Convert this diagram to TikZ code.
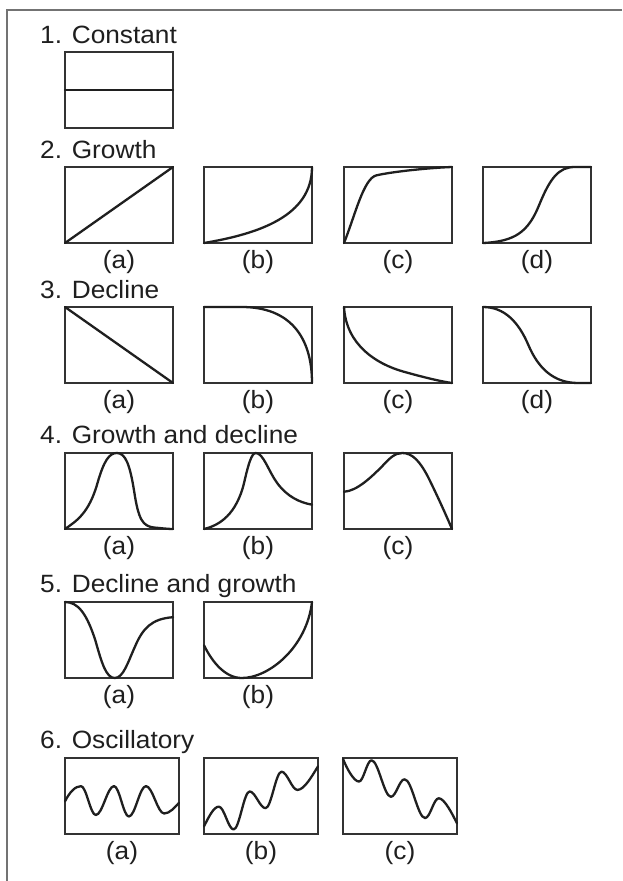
\documentclass[tikz,border=0pt]{standalone}
\usepackage{fontspec}
\setmainfont{Liberation Sans}[FakeStretch=1.05]
\begin{document}
\begin{tikzpicture}[x=1pt,y=-1pt,
  panel/.style={draw=black!80, line width=1.8pt, minimum width=108pt, minimum height=76pt, inner sep=0pt, outer sep=0pt, anchor=north west},
  widepanel/.style={panel, minimum width=114pt},
  curve/.style={line width=2.3pt, draw=black!88, line join=round, line cap=round},
  ttl/.style={font=\fontsize{25}{29}\selectfont, anchor=base west, inner sep=0pt, text=black!88},
  lab/.style={font=\fontsize{25}{29}\selectfont, anchor=base, inner sep=0pt, text=black!88},
  frame/.style={line width=2.5pt, draw=black!55}]
\useasboundingbox (0,0) rectangle (622,881);
% frame
\coordinate (fTL) at (7,10);
\coordinate (fTR) at (622,10);
\coordinate (fBL) at (7,881);
\draw[frame] (fTR) -- (fTL) -- (fBL);

% ---------- 1. Constant
\node[ttl] (t1) at (40,43) {1. Constant};
\node[panel] (c1) at (65,52) {};
\begin{scope}[shift={(c1.south west)},x=108pt,y=76pt]
  \draw[curve] (0,0.5) -- (1,0.5);
\end{scope}

% ---------- 2. Growth
\node[ttl] (t2) at (40,158) {2. Growth};
\node[panel] (g2a) at (65,167) {};
\node[panel] (g2b) at (204,167) {};
\node[panel] (g2c) at (344,167) {};
\node[panel] (g2d) at (483,167) {};
\begin{scope}[shift={(g2a.south west)},x=108pt,y=76pt]
  \draw[curve] (0,0) -- (1,1);
\end{scope}
\begin{scope}[shift={(g2b.south west)},x=108pt,y=76pt]
  \draw[curve] (0,0) .. controls (0.5,0.12) and (1,0.35) .. (1,1);
\end{scope}
\begin{scope}[shift={(g2c.south west)},x=108pt,y=76pt]
  \draw[curve] (0,0) .. controls (0.1,0.35) and (0.18,0.85) .. (0.3,0.89) .. controls (0.45,0.94) and (0.8,0.99) .. (1,1);
\end{scope}
\begin{scope}[shift={(g2d.south west)},x=108pt,y=76pt]
  \draw[curve] (0,0) .. controls (0.3,0.02) and (0.42,0.15) .. (0.52,0.5) .. controls (0.62,0.85) and (0.7,1) .. (0.85,1) -- (1,1);
\end{scope}
\node[lab] (l2a) at ([yshift=-25pt]g2a.south) {(a)};
\node[lab] (l2b) at ([yshift=-25pt]g2b.south) {(b)};
\node[lab] (l2c) at ([yshift=-25pt]g2c.south) {(c)};
\node[lab] (l2d) at ([yshift=-25pt]g2d.south) {(d)};

% ---------- 3. Decline
\node[ttl] (t3) at (40,298) {3. Decline};
\node[panel] (d3a) at (65,307) {};
\node[panel] (d3b) at (204,307) {};
\node[panel] (d3c) at (344,307) {};
\node[panel] (d3d) at (483,307) {};
\begin{scope}[shift={(d3a.south west)},x=108pt,y=76pt]
  \draw[curve] (0,1) -- (1,0);
\end{scope}
\begin{scope}[shift={(d3b.south west)},x=108pt,y=76pt]
  \draw[curve] (0,1) -- (0.35,1) .. controls (0.8,1) and (1,0.6) .. (1,0);
\end{scope}
\begin{scope}[shift={(d3c.south west)},x=108pt,y=76pt]
  \draw[curve] (0,1) .. controls (0.02,0.5) and (0.3,0.25) .. (0.55,0.15) .. controls (0.75,0.07) and (0.9,0.02) .. (1,0);
\end{scope}
\begin{scope}[shift={(d3d.south west)},x=108pt,y=76pt]
  \draw[curve] (0,1) .. controls (0.2,1) and (0.33,0.8) .. (0.42,0.5) .. controls (0.51,0.2) and (0.65,0) .. (0.88,0) -- (1,0);
\end{scope}
\node[lab] (l3a) at ([yshift=-25pt]d3a.south) {(a)};
\node[lab] (l3b) at ([yshift=-25pt]d3b.south) {(b)};
\node[lab] (l3c) at ([yshift=-25pt]d3c.south) {(c)};
\node[lab] (l3d) at ([yshift=-25pt]d3d.south) {(d)};

% ---------- 4. Growth and decline
\node[ttl] (t4) at (40,443) {4. Growth and decline};
\node[panel] (gd4a) at (65,453) {};
\node[panel] (gd4b) at (204,453) {};
\node[panel] (gd4c) at (344,453) {};
\begin{scope}[shift={(gd4a.south west)},x=108pt,y=76pt]
  \draw[curve] (0,0) .. controls (0.1,0.1) and (0.22,0.2) .. (0.3,0.6) .. controls (0.36,0.9) and (0.41,1) .. (0.48,1) .. controls (0.56,1) and (0.6,0.85) .. (0.64,0.5) .. controls (0.68,0.12) and (0.72,0.04) .. (0.82,0.02) .. controls (0.9,0.01) and (0.95,0) .. (1,0);
\end{scope}
\begin{scope}[shift={(gd4b.south west)},x=108pt,y=76pt]
  \draw[curve] (0,0) .. controls (0.15,0.05) and (0.3,0.2) .. (0.37,0.6) .. controls (0.41,0.85) and (0.44,1) .. (0.48,1) .. controls (0.55,1) and (0.6,0.75) .. (0.68,0.6) .. controls (0.77,0.43) and (0.88,0.35) .. (1,0.32);
\end{scope}
\begin{scope}[shift={(gd4c.south west)},x=108pt,y=76pt]
  \draw[curve] (0,0.49) .. controls (0.12,0.5) and (0.25,0.68) .. (0.35,0.82) .. controls (0.42,0.93) and (0.47,1) .. (0.54,1) .. controls (0.63,1) and (0.7,0.9) .. (0.78,0.68) .. controls (0.86,0.45) and (0.94,0.2) .. (1,0);
\end{scope}
\node[lab] (l4a) at ([yshift=-25pt]gd4a.south) {(a)};
\node[lab] (l4b) at ([yshift=-25pt]gd4b.south) {(b)};
\node[lab] (l4c) at ([yshift=-25pt]gd4c.south) {(c)};

% ---------- 5. Decline and growth
\node[ttl] (t5) at (40,592) {5. Decline and growth};
\node[panel] (dg5a) at (65,602) {};
\node[panel] (dg5b) at (204,602) {};
\begin{scope}[shift={(dg5a.south west)},x=108pt,y=76pt]
  \draw[curve] (0,1) .. controls (0.12,1) and (0.2,0.85) .. (0.28,0.5) .. controls (0.34,0.2) and (0.38,0) .. (0.46,0) .. controls (0.54,0) and (0.58,0.2) .. (0.65,0.42) .. controls (0.72,0.65) and (0.8,0.78) .. (1,0.8);
\end{scope}
\begin{scope}[shift={(dg5b.south west)},x=108pt,y=76pt]
  \draw[curve] (0,0.43) .. controls (0.08,0.2) and (0.2,0) .. (0.35,0) .. controls (0.6,0) and (0.95,0.4) .. (1,1);
\end{scope}
\node[lab] (l5a) at ([yshift=-25pt]dg5a.south) {(a)};
\node[lab] (l5b) at ([yshift=-25pt]dg5b.south) {(b)};

% ---------- 6. Oscillatory
\node[ttl] (t6) at (40,748) {6. Oscillatory};
\node[widepanel] (o6a) at (65,758) {};
\node[widepanel] (o6b) at (204,758) {};
\node[widepanel] (o6c) at (343,758) {};
\begin{scope}[shift={(o6a.south west)},x=114pt,y=76pt]
  \draw[curve] (0,0.43) .. controls +(0.04,0.12) and +(-0.05,0) .. (0.14,0.63)
    .. controls +(0.047,0) and +(-0.047,0) .. (0.27,0.25)
    .. controls +(0.058,0) and +(-0.058,0) .. (0.43,0.63)
    .. controls +(0.047,0) and +(-0.047,0) .. (0.56,0.23)
    .. controls +(0.055,0) and +(-0.055,0) .. (0.71,0.63)
    .. controls +(0.058,0) and +(-0.058,0) .. (0.87,0.27)
    .. controls +(0.05,0) and +(-0.04,-0.06) .. (1,0.41);
\end{scope}
\begin{scope}[shift={(o6b.south west)},x=114pt,y=76pt]
  \draw[curve] (0,0.1) .. controls +(0.04,0.12) and +(-0.045,0) .. (0.13,0.36)
    .. controls +(0.047,0) and +(-0.047,0) .. (0.26,0.06)
    .. controls +(0.05,0) and +(-0.05,0) .. (0.4,0.56)
    .. controls +(0.05,0) and +(-0.05,0) .. (0.54,0.34)
    .. controls +(0.05,0) and +(-0.05,0) .. (0.68,0.82)
    .. controls +(0.05,0) and +(-0.05,0) .. (0.82,0.58)
    .. controls +(0.06,0) and +(-0.05,-0.12) .. (1,0.89);
\end{scope}
\begin{scope}[shift={(o6c.south west)},x=114pt,y=76pt]
  \draw[curve] (0,0.99) .. controls +(0.03,-0.12) and +(-0.045,0) .. (0.14,0.69)
    .. controls +(0.04,0) and +(-0.04,0) .. (0.25,0.97)
    .. controls +(0.06,0) and +(-0.06,0) .. (0.42,0.49)
    .. controls +(0.045,0) and +(-0.045,0) .. (0.54,0.72)
    .. controls +(0.065,0) and +(-0.065,0) .. (0.72,0.21)
    .. controls +(0.045,0) and +(-0.045,0) .. (0.84,0.47)
    .. controls +(0.05,0) and +(-0.04,0.12) .. (1,0.14);
\end{scope}
\node[lab] (l6a) at ([yshift=-25pt]o6a.south) {(a)};
\node[lab] (l6b) at ([yshift=-25pt]o6b.south) {(b)};
\node[lab] (l6c) at ([yshift=-25pt]o6c.south) {(c)};
\end{tikzpicture}
\end{document}
